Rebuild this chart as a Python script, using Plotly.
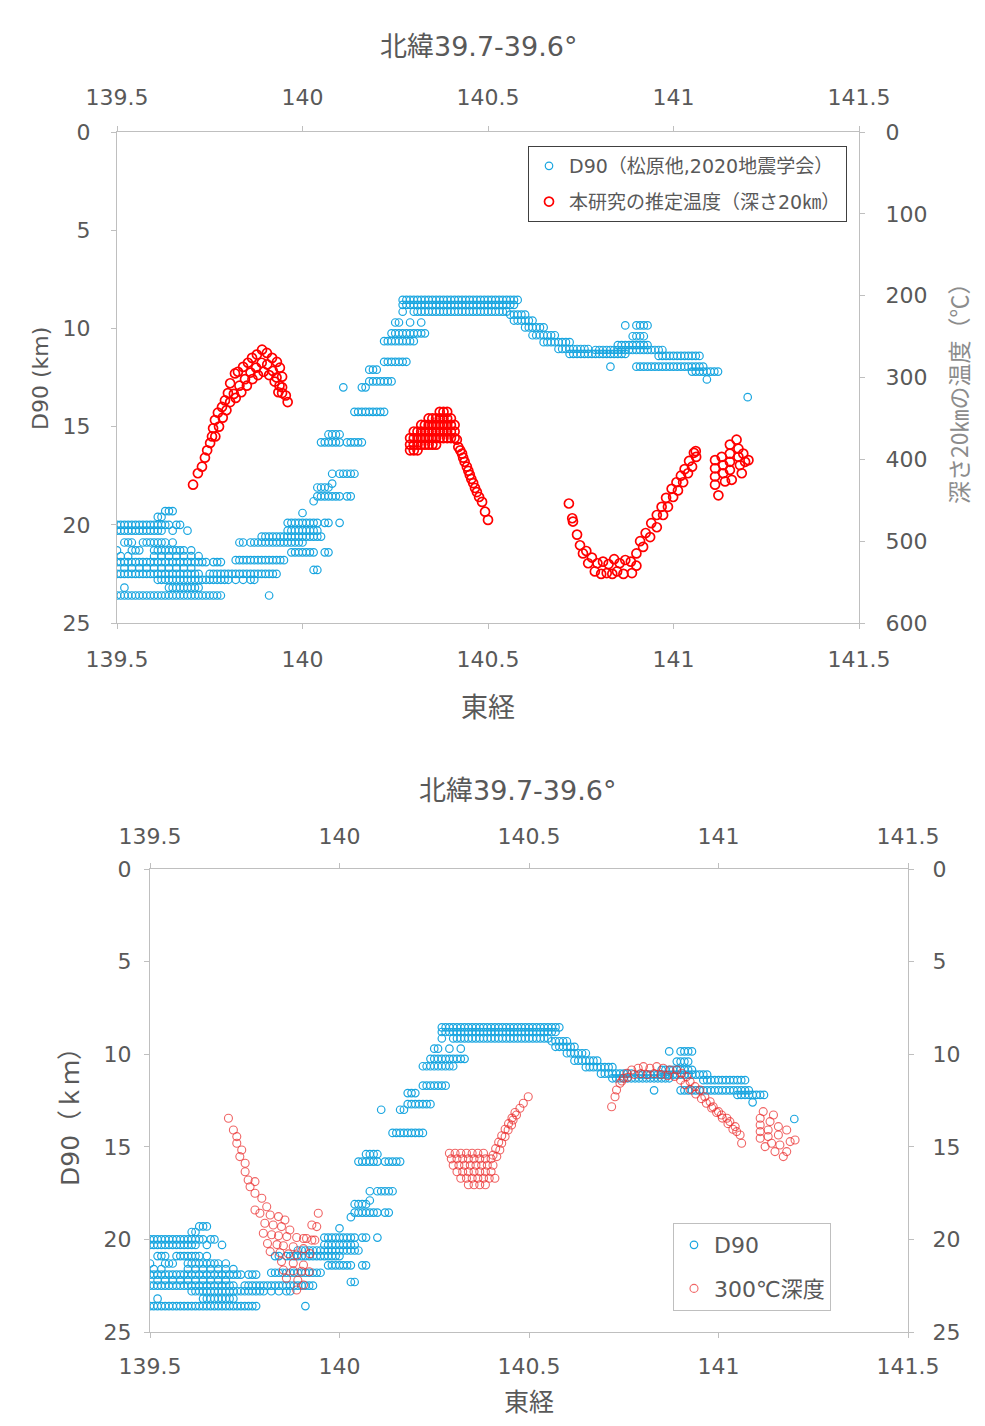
import plotly.graph_objects as go

# ---------------- D90 data (longitude rows at a given depth, km) ----------------
d90_row_km = [19.3, 19.6, 20.0, 20.3, 20.9, 21.3, 21.6, 21.9, 22.2, 22.5, 22.8, 23.2, 23.6,
              19.4, 19.9, 20.3, 20.6, 20.9, 21.4, 21.8, 22.3,
              18.8, 18.55, 18.1, 17.9, 17.4, 15.8, 15.4, 14.25, 13.0, 12.7, 12.1, 11.7, 10.65, 10.25, 9.7,
              8.55, 8.8, 9.15,
              9.3, 9.6, 9.95, 10.35, 10.7, 11.05,
              11.3, 11.1, 11.4, 10.85, 10.4, 9.85, 11.95, 12.2, 12.6, 13.5]
d90_row_lon = [
    [139.63, 139.64, 139.65],
    [139.61, 139.62],
    [139.50, 139.51, 139.52, 139.53, 139.54, 139.55, 139.56, 139.57, 139.58, 139.59, 139.60, 139.61, 139.62, 139.63, 139.64, 139.66, 139.67],
    [139.50, 139.51, 139.52, 139.53, 139.54, 139.55, 139.56, 139.57, 139.58, 139.59, 139.60, 139.61, 139.62, 139.65, 139.69],
    [139.52, 139.53, 139.54, 139.57, 139.58, 139.59, 139.60, 139.61, 139.62, 139.63, 139.65],
    [139.50, 139.54, 139.55, 139.56, 139.60, 139.61, 139.62, 139.63, 139.64, 139.65, 139.66, 139.67, 139.68, 139.70],
    [139.51, 139.53, 139.60, 139.62, 139.64, 139.66, 139.68, 139.70, 139.72],
    [139.50, 139.51, 139.52, 139.53, 139.54, 139.55, 139.56, 139.57, 139.58, 139.59, 139.60, 139.61, 139.62, 139.63, 139.64, 139.65, 139.66, 139.67, 139.68, 139.69, 139.70, 139.71, 139.72, 139.73, 139.74, 139.76, 139.77, 139.78],
    [139.52, 139.54, 139.56, 139.58, 139.60, 139.62, 139.64, 139.66, 139.68, 139.70],
    [139.50, 139.51, 139.52, 139.53, 139.54, 139.55, 139.56, 139.57, 139.58, 139.59, 139.60, 139.61, 139.62, 139.63, 139.64, 139.65, 139.66, 139.67, 139.68, 139.69, 139.70, 139.71, 139.72,
     139.75, 139.76, 139.77, 139.78, 139.79, 139.80, 139.81, 139.82, 139.83, 139.84, 139.85, 139.86, 139.87, 139.88, 139.89, 139.90, 139.91, 139.92, 139.93],
    [139.61, 139.62, 139.63, 139.64, 139.65, 139.66, 139.67, 139.68, 139.69, 139.70, 139.71, 139.72, 139.73, 139.74, 139.75, 139.76, 139.77, 139.78, 139.79, 139.80, 139.82, 139.84, 139.86, 139.87],
    [139.52, 139.64, 139.65, 139.66, 139.67, 139.68, 139.69, 139.70, 139.71, 139.72],
    [139.50, 139.51, 139.52, 139.53, 139.54, 139.55, 139.56, 139.57, 139.58, 139.59, 139.60, 139.61, 139.62, 139.63, 139.64, 139.65, 139.66, 139.67, 139.68, 139.69, 139.70, 139.71, 139.72, 139.73, 139.74, 139.75, 139.76, 139.77, 139.78, 139.91],
    [140.00],
    [139.96, 139.97, 139.98, 139.99, 140.00, 140.01, 140.02, 140.03, 140.04, 140.06, 140.07, 140.10],
    [139.96, 139.97, 139.98, 139.99, 140.00, 140.01, 140.02, 140.03, 140.04],
    [139.89, 139.90, 139.91, 139.92, 139.93, 139.94, 139.95, 139.96, 139.97, 139.98, 139.99, 140.00, 140.01, 140.02, 140.03, 140.04, 140.05],
    [139.83, 139.84, 139.86, 139.87, 139.88, 139.89, 139.90, 139.91, 139.92, 139.93, 139.94, 139.95, 139.96, 139.97, 139.98, 139.99, 140.00],
    [139.97, 139.98, 139.99, 140.00, 140.01, 140.02, 140.03, 140.06, 140.07],
    [139.82, 139.83, 139.84, 139.85, 139.86, 139.87, 139.88, 139.89, 139.90, 139.91, 139.92, 139.93, 139.94, 139.95],
    [140.03, 140.04],
    [140.03],
    [140.04, 140.05, 140.06, 140.07, 140.08, 140.09, 140.10, 140.12, 140.13],
    [140.04, 140.05, 140.06, 140.07],
    [140.08],
    [140.08, 140.10, 140.11, 140.12, 140.13, 140.14],
    [140.05, 140.06, 140.07, 140.08, 140.09, 140.10, 140.12, 140.13, 140.14, 140.15, 140.16],
    [140.07, 140.08, 140.09, 140.10],
    [140.14, 140.15, 140.16, 140.17, 140.18, 140.19, 140.20, 140.21, 140.22],
    [140.11, 140.16, 140.17],
    [140.18, 140.19, 140.20, 140.21, 140.22, 140.23, 140.24],
    [140.18, 140.19, 140.20],
    [140.22, 140.23, 140.24, 140.25, 140.26, 140.27, 140.28],
    [140.22, 140.23, 140.24, 140.25, 140.26, 140.27, 140.28, 140.29, 140.30],
    [140.24, 140.25, 140.26, 140.27, 140.28, 140.29, 140.30, 140.31, 140.32, 140.33],
    [140.25, 140.26, 140.29, 140.32],
    [140.27, 140.28, 140.29, 140.30, 140.31, 140.32, 140.33, 140.34, 140.35, 140.36, 140.37, 140.38, 140.39, 140.40, 140.41, 140.42,
     140.43, 140.44, 140.45, 140.46, 140.47, 140.48, 140.49, 140.50, 140.51, 140.52, 140.53, 140.54, 140.55, 140.56, 140.57, 140.58],
    [140.27, 140.28, 140.29, 140.30, 140.31, 140.32, 140.33, 140.34, 140.35, 140.36, 140.37, 140.38, 140.39, 140.40, 140.41, 140.42,
     140.43, 140.44, 140.45, 140.46, 140.47, 140.48, 140.49, 140.50, 140.51, 140.52, 140.53, 140.54, 140.55, 140.56, 140.57],
    [140.27, 140.30, 140.31, 140.32, 140.33, 140.34, 140.35, 140.36, 140.37, 140.38, 140.39, 140.40, 140.41, 140.42, 140.43,
     140.44, 140.45, 140.46, 140.47, 140.48, 140.49, 140.50, 140.51, 140.52, 140.53, 140.54, 140.55],
    [140.56, 140.57, 140.58, 140.59, 140.60],
    [140.57, 140.58, 140.59, 140.60, 140.61, 140.62],
    [140.60, 140.61, 140.62, 140.63, 140.64, 140.65],
    [140.62, 140.63, 140.64, 140.65, 140.66, 140.67, 140.68],
    [140.65, 140.66, 140.67, 140.68, 140.69, 140.70, 140.71, 140.72],
    [140.69, 140.70, 140.71, 140.72, 140.73, 140.74, 140.75, 140.76, 140.77],
    [140.72, 140.73, 140.74, 140.75, 140.76, 140.77, 140.78, 140.79, 140.80, 140.81, 140.82, 140.83, 140.84, 140.85, 140.86, 140.87],
    [140.79, 140.80, 140.81, 140.82, 140.83, 140.84, 140.85, 140.86, 140.87, 140.88, 140.89, 140.90, 140.91, 140.92, 140.93, 140.94, 140.95, 140.96, 140.97],
    [140.96, 140.97, 140.98, 140.99, 141.00, 141.01, 141.02, 141.03, 141.04, 141.05, 141.06, 141.07],
    [140.85, 140.86, 140.87, 140.88, 140.89, 140.90, 140.91, 140.92, 140.93],
    [140.89, 140.90, 140.91, 140.92],
    [140.87, 140.90, 140.91, 140.92, 140.93],
    [140.83, 140.90, 140.91, 140.92, 140.93, 140.94, 140.95, 140.96, 140.97, 140.98, 140.99, 141.00, 141.01, 141.02, 141.03, 141.04, 141.05, 141.06, 141.07, 141.08],
    [141.05, 141.06, 141.07, 141.08, 141.09, 141.10, 141.11, 141.12],
    [141.09],
    [141.20],
]

# ---------------- Estimated temperature at 20 km depth (top panel, deg C) ----------------
temp_lon = [
    139.705, 139.718, 139.729, 139.737, 139.743, 139.751, 139.756, 139.759, 139.764, 139.772, 139.783, 139.791, 139.799, 139.805,
    139.818, 139.826, 139.840, 139.853, 139.864, 139.877, 139.891, 139.904, 139.918, 139.931, 139.939, 139.945, 139.945, 139.945,
    139.765, 139.775, 139.785, 139.795, 139.805, 139.815, 139.830, 139.845, 139.860, 139.875, 139.890, 139.905, 139.920, 139.930, 139.938, 139.955,
    139.820, 139.835, 139.850, 139.865, 139.880, 139.895, 139.910, 139.925, 139.935, 139.960,
    140.37, 140.38, 140.39,
    140.34, 140.35, 140.36, 140.37, 140.38, 140.39, 140.40,
    140.32, 140.33, 140.34, 140.35, 140.36, 140.37, 140.38, 140.39, 140.40, 140.41,
    140.30, 140.31, 140.32, 140.33, 140.34, 140.35, 140.36, 140.37, 140.38, 140.39, 140.40, 140.41,
    140.29, 140.30, 140.31, 140.32, 140.33, 140.34, 140.35, 140.36, 140.37, 140.38, 140.39, 140.40, 140.41,
    140.29, 140.30, 140.31, 140.32, 140.33, 140.34, 140.35, 140.36,
    140.29, 140.30, 140.31,
    140.416, 140.425, 140.433, 140.443, 140.451, 140.460, 140.470, 140.484, 140.492, 140.500,
    140.420, 140.430, 140.437, 140.447, 140.455, 140.465, 140.476,
    140.718, 140.727, 140.729, 140.740, 140.748, 140.756, 140.770, 140.788, 140.805, 140.820, 140.835, 140.848, 140.865,
    140.888, 140.900, 140.918, 140.937, 140.955, 140.972, 140.985, 140.999, 141.012, 141.026, 141.039, 141.050, 141.061,
    140.765, 140.780, 140.795, 140.810, 140.825, 140.840, 140.855, 140.870, 140.885, 140.900, 140.910, 140.925, 140.940,
    140.955, 140.968, 140.980, 140.995, 141.008, 141.020, 141.030, 141.042, 141.055, 141.060,
    141.112, 141.112, 141.112, 141.112, 141.121, 141.130, 141.134, 141.134, 141.139, 141.152, 141.152, 141.152, 141.152,
    141.157, 141.170, 141.175, 141.175, 141.179, 141.184, 141.188, 141.193, 141.202,
]
temp_c = [
    431, 417, 409, 398, 389, 380, 372, 362, 352, 343, 336, 328, 319, 307,
    295, 293, 287, 282, 276, 272, 266, 270, 276, 281, 288, 299, 312, 319,
    372, 360, 349, 340, 330, 320, 310, 302, 294, 288, 282, 284, 292, 300, 310, 322,
    325, 318, 310, 302, 297, 293, 297, 305, 318, 330,
    342, 342, 342,
    350, 350, 350, 350, 350, 350, 350,
    358, 358, 358, 358, 358, 358, 358, 358, 358, 358,
    366, 366, 366, 366, 366, 366, 366, 366, 366, 366, 366, 366,
    374, 374, 374, 374, 374, 374, 374, 374, 374, 374, 374, 374, 374,
    382, 382, 382, 382, 382, 382, 382, 382,
    389, 389, 389,
    376, 389, 398, 409, 419, 429, 440, 452, 464, 474,
    385, 393, 403, 414, 424, 435, 446,
    454, 472, 476, 492, 505, 515, 527, 537, 540, 539, 540, 537, 540,
    539, 530, 507, 495, 483, 468, 458, 446, 438, 428, 417, 409, 397,
    512, 520, 527, 525, 528, 522, 527, 523, 525, 515, 500, 490, 478,
    468, 458, 447, 436, 428, 420, 412, 402, 392, 390,
    401, 411, 421, 431, 444, 397, 407, 417, 427, 382, 393, 403, 413,
    425, 376, 387, 397, 407, 417, 393, 403, 401,
]

# ---------------- Depth of 300 deg C isotherm (bottom panel, km) ----------------
iso_lon = [
    139.707, 139.720, 139.729, 139.729, 139.742, 139.737, 139.751, 139.751, 139.759, 139.777, 139.764, 139.777, 139.795, 139.808,
    139.777, 139.790, 139.817, 139.839, 139.856, 139.803, 139.825, 139.847, 139.869,
    139.799, 139.821, 139.839, 139.861, 139.887, 139.905,
    139.810, 139.835, 139.852, 139.878,
    139.817, 139.843, 139.865, 139.887,
    139.847, 139.878, 139.905,
    139.852, 139.878, 139.900, 139.920,
    139.860, 139.890, 139.887, 139.905,
    139.944, 139.927, 139.940, 139.913, 139.927, 139.935, 139.922, 139.905,
    140.290, 140.305, 140.320, 140.335, 140.350, 140.365, 140.380,
    140.295, 140.310, 140.325, 140.340, 140.355, 140.370, 140.385, 140.400,
    140.300, 140.315, 140.330, 140.345, 140.360, 140.375, 140.390, 140.405,
    140.310, 140.325, 140.340, 140.355, 140.370, 140.385, 140.400,
    140.320, 140.335, 140.350, 140.365, 140.380, 140.395, 140.410,
    140.340, 140.355, 140.370, 140.385,
    140.415, 140.423, 140.428, 140.437, 140.445, 140.454, 140.458, 140.467, 140.476, 140.485, 140.498,
    140.405, 140.412, 140.420, 140.428, 140.437, 140.446, 140.455, 140.463,
    140.718, 140.727, 140.731, 140.740, 140.749, 140.758, 140.771, 140.788, 140.802, 140.819, 140.837, 140.854, 140.872, 140.890,
    140.903, 140.916, 140.925, 140.938, 140.951, 140.964, 140.978, 140.986, 141.000, 141.008, 141.022, 141.030, 141.044, 141.048,
    141.057, 141.061,
    140.745, 140.760, 140.778, 140.795, 140.812, 140.830, 140.848, 140.866, 140.884, 140.900, 140.912, 140.925, 140.940,
    140.955, 140.968, 140.982, 140.995, 141.010, 141.025, 141.038,
    141.118, 141.110, 141.110, 141.110, 141.110, 141.123, 141.136, 141.131, 141.131, 141.140, 141.149, 141.158, 141.158,
    141.162, 141.171, 141.180, 141.180, 141.189, 141.202, 141.145,
]
iso_km = [
    13.46, 14.09, 14.45, 14.81, 15.17, 15.53, 15.89, 16.35, 16.79, 16.88, 17.16, 17.51, 17.78, 18.24,
    18.41, 18.59, 18.68, 18.77, 18.95, 19.13, 19.22, 19.31, 19.49,
    19.67, 19.75, 19.80, 19.85, 19.90, 19.95,
    20.22, 20.28, 20.34, 20.40,
    20.66, 20.72, 20.78, 20.84,
    21.20, 21.29, 21.38,
    21.65, 21.70, 21.72, 21.75,
    22.10, 22.20, 22.73, 22.46,
    18.59, 19.22, 19.31, 19.95, 20.04, 20.04, 20.77, 20.50,
    15.35, 15.35, 15.35, 15.35, 15.35, 15.35, 15.35,
    15.65, 15.65, 15.65, 15.65, 15.65, 15.65, 15.65, 15.65,
    16.00, 16.00, 16.00, 16.00, 16.00, 16.00, 16.00, 16.00,
    16.35, 16.35, 16.35, 16.35, 16.35, 16.35, 16.35,
    16.70, 16.70, 16.70, 16.70, 16.70, 16.70, 16.70,
    17.05, 17.05, 17.05, 17.05,
    15.53, 15.17, 14.81, 14.45, 14.09, 13.82, 13.55, 13.28, 12.92, 12.65, 12.30,
    15.45, 15.10, 14.75, 14.40, 14.05, 13.75, 13.45, 13.15,
    12.84, 12.30, 11.93, 11.57, 11.30, 11.03, 10.85, 10.76, 10.67, 10.76, 10.67, 10.76, 10.85, 10.85,
    11.03, 11.21, 11.48, 11.75, 11.93, 12.30, 12.57, 12.84, 13.10, 13.28, 13.46, 13.64, 13.91, 14.18,
    14.36, 14.81,
    11.45, 11.25, 11.10, 11.05, 11.10, 11.05, 11.10, 11.15, 11.20, 11.40, 11.65, 11.90, 12.15,
    12.40, 12.65, 12.90, 13.15, 13.45, 13.75, 14.05,
    13.10, 13.46, 13.82, 14.18, 14.54, 14.99, 13.64, 14.09, 14.45, 14.81, 15.26, 13.91, 14.36,
    14.90, 15.53, 14.09, 15.26, 14.72, 14.63, 13.28,
]

# tick labels
lon_ticks = [139.5, 140.0, 140.5, 141.0, 141.5]
lon_ticktext = ["139.5", "140", "140.5", "141", "141.5"]
km_ticks = [0, 5, 10, 15, 20, 25]
temp_ticks = [0, 100, 200, 300, 400, 500, 600]

d90_lon = [x for row in d90_row_lon for x in row]
d90_km = [d for d, row in zip(d90_row_km, d90_row_lon) for _ in row]

# page has an 8px body margin: the figure starts at (8, 8)
OFF = 8
W, H = 985 - 2 * OFF, 1426 - 2 * OFF
BLUE = "#1AA6E0"
AX = "#BFBFBF"
TXT = "#595959"
FONT = "DejaVu Sans, Noto Sans CJK JP, sans-serif"
CJK = "Noto Sans CJK JP, sans-serif"


def px(x):
    return (x - OFF) / W


def py(y):
    return 1 - (y - OFF) / H


fig = go.Figure()

# top panel
fig.add_trace(go.Scatter(x=d90_lon, y=d90_km, mode="markers", name="D90（松原他,2020地震学会）",
                         xaxis="x", yaxis="y", legend="legend", legendgroup="a",
                         marker=dict(symbol="circle-open", size=7.5, color=BLUE, line=dict(width=1.2, color=BLUE))))
fig.add_trace(go.Scatter(x=temp_lon, y=temp_c, mode="markers", name="本研究の推定温度（深さ20㎞）",
                         xaxis="x", yaxis="y2", legend="legend", legendgroup="b",
                         marker=dict(symbol="circle-open", size=9, color="#FF0000", line=dict(width=1.7, color="#FF0000"))))

# bottom panel
fig.add_trace(go.Scatter(x=d90_lon, y=d90_km, mode="markers", name="D90",
                         xaxis="x3", yaxis="y3", legend="legend2", legendgroup="c",
                         marker=dict(symbol="circle-open", size=7.5, color=BLUE, line=dict(width=1.2, color=BLUE))))
fig.add_trace(go.Scatter(x=iso_lon, y=iso_km, mode="markers", name="300℃深度",
                         xaxis="x3", yaxis="y3", legend="legend2", legendgroup="d",
                         marker=dict(symbol="circle-open", size=8, color="rgba(235,50,50,0.75)",
                                     line=dict(width=1.1, color="rgba(235,50,50,0.75)"))))

# helper traces so overlaid axes render
fig.add_trace(go.Scatter(x=[None], y=[None], xaxis="x2", yaxis="y", showlegend=False, hoverinfo="skip"))
fig.add_trace(go.Scatter(x=[None], y=[None], xaxis="x4", yaxis="y3", showlegend=False, hoverinfo="skip"))
fig.add_trace(go.Scatter(x=[None], y=[None], xaxis="x3", yaxis="y4", showlegend=False, hoverinfo="skip"))


def xax(domain, anchor, side, standoff, overlay=None):
    d = dict(domain=domain, anchor=anchor, side=side, range=[139.5, 141.5], tickvals=lon_ticks, ticktext=lon_ticktext,
             showline=True, linecolor=AX, linewidth=1, ticks="outside", ticklen=5, tickcolor=AX,
             tickfont=dict(size=22, color=TXT, family=FONT), ticklabelstandoff=standoff,
             showgrid=False, zeroline=False, automargin=False)
    if overlay:
        d["overlaying"] = overlay
    return d


def yax(domain, anchor, side, rng, ticks, standoff, overlay=None):
    d = dict(domain=domain, anchor=anchor, side=side, range=rng, tickvals=ticks,
             showline=True, linecolor=AX, linewidth=1, ticks="outside", ticklen=5, tickcolor=AX,
             tickfont=dict(size=22, color=TXT, family=FONT), ticklabelstandoff=standoff,
             showgrid=False, zeroline=False, automargin=False)
    if overlay:
        d["overlaying"] = overlay
    return d


top_xd = [px(117), px(859)]
top_yd = [py(623), py(132)]
bot_xd = [px(150), px(908)]
bot_yd = [py(1332), py(869)]


def ann(text, x, y, size, angle=0, color=TXT, family=FONT):
    return dict(text=text, x=px(x), y=py(y), xref="paper", yref="paper", showarrow=False,
                textangle=angle, font=dict(size=size, color=color, family=family),
                xanchor="center", yanchor="middle")


fig.update_layout(
    width=W, height=H, margin=dict(l=0, r=0, t=0, b=0, autoexpand=False),
    paper_bgcolor="white", plot_bgcolor="white",
    font=dict(family=FONT, color=TXT),
    xaxis=xax(top_xd, "y", "bottom", 12),
    xaxis2=xax(top_xd, "y", "top", 12, overlay="x"),
    yaxis=yax(top_yd, "x", "left", [25, 0], km_ticks, 16),
    yaxis2=yax(top_yd, "x", "right", [600, 0], temp_ticks, 16, overlay="y"),
    xaxis3=xax(bot_xd, "y3", "bottom", 10),
    xaxis4=xax(bot_xd, "y3", "top", 10, overlay="x3"),
    yaxis3=yax(bot_yd, "x3", "left", [25, 0], km_ticks, 8),
    yaxis4=yax(bot_yd, "x3", "right", [25, 0], km_ticks, 14, overlay="y3"),
    legend=dict(x=px(528), y=py(146), xanchor="left", yanchor="top", bgcolor="white",
                bordercolor="#404040", borderwidth=1, tracegroupgap=8,
                font=dict(size=19, color=TXT, family=FONT)),
    legend2=dict(x=px(673), y=py(1223), xanchor="left", yanchor="top", bgcolor="white",
                 bordercolor="#BFBFBF", borderwidth=1, tracegroupgap=12,
                 font=dict(size=22, color=TXT, family=FONT)),
    annotations=[
        ann("北緯39.7-39.6°", 478, 47, 27),
        ann("北緯39.7-39.6°", 517, 790, 27),
        ann("東経", 488, 705, 27, family=CJK),
        ann("東経", 529, 1400, 25, family=CJK),
        ann("D90 (km)", 40, 378, 22, angle=-90),
        ann("深さ20㎞の温度（℃）", 958, 388, 23, angle=-90, color="#8C8C8C", family=CJK),
        ann("D90（ｋｍ）", 70, 1110, 25, angle=-90),
    ],
)

fig.write_html("out.html")
